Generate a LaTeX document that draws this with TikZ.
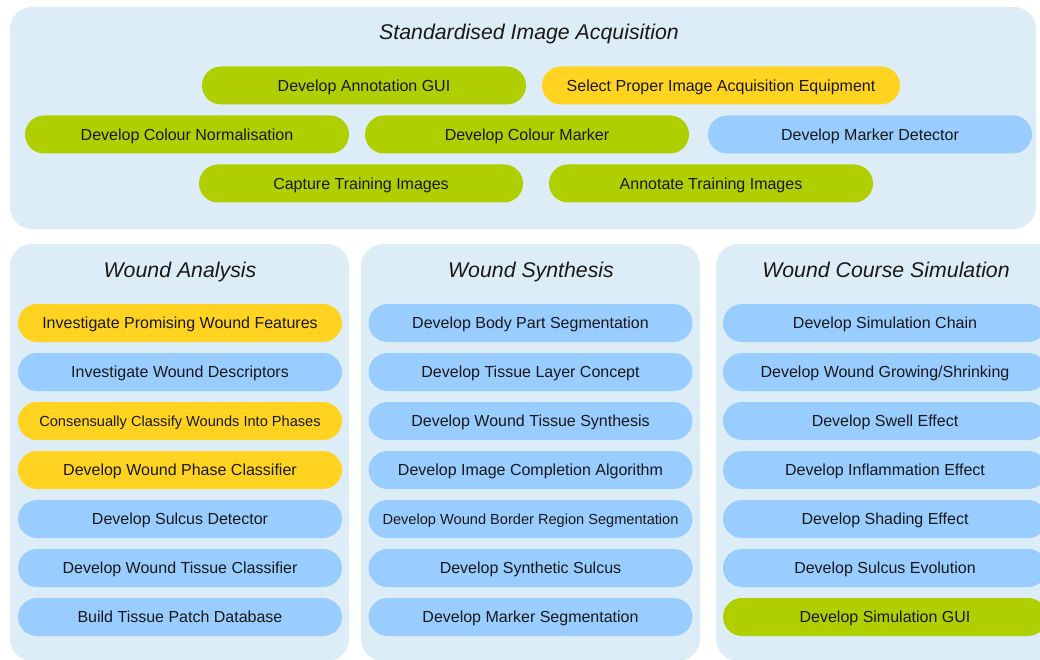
\documentclass[tikz,border=0pt]{standalone}
\usepackage{fontspec}
\setmainfont{Liberation Sans}
\definecolor{panelbg}{HTML}{DDEDF8}
\definecolor{pgreen}{HTML}{AFCF00}
\definecolor{pyellow}{HTML}{FFD320}
\definecolor{pblue}{HTML}{99CCFF}
\usetikzlibrary{shapes.misc}
\tikzset{
  panel/.style={fill=panelbg, draw=none, rounded corners=22pt},
  pill/.style={rounded rectangle, minimum height=38pt, minimum width=324pt, inner sep=0pt, font=\fontsize{16}{19}\selectfont, text=black!90, text height=11.5pt, text depth=0pt},
  gpill/.style={pill, fill=pgreen},
  ypill/.style={pill, fill=pyellow},
  bpill/.style={pill, fill=pblue},
  small/.style={font=\fontsize{14.6}{17}\selectfont, text height=10.5pt},
  ptitle/.style={font=\fontsize{21.3}{25}\selectfont\itshape, text=black!90, text height=15.3pt, text depth=0pt, inner sep=0pt}
}
\begin{document}
\begin{tikzpicture}[x=1pt,y=-1pt]
\useasboundingbox (0,0) rectangle (1040,660);
\clip (0,0) rectangle (1040,660);
% panels
\fill[panel] (10,7) rectangle (1036,229);
\fill[panel] (10,244) rectangle (349,661);
\fill[panel] (361,244) rectangle (700,661);
\fill[panel] (716,244) rectangle (1070,661);
% top
\node[ptitle] (t0) at (529,32) {Standardised Image Acquisition};
\node[gpill] (a1) at (364,85.5) {Develop Annotation GUI};
\node[ypill, minimum width=358pt] (a2) at (721,85.5) {Select Proper Image Acquisition Equipment};
\node[gpill] (a3) at (187,134.5) {Develop Colour Normalisation};
\node[gpill] (a4) at (527,134.5) {Develop Colour Marker};
\node[bpill] (a5) at (870,134.5) {Develop Marker Detector};
\node[gpill] (a6) at (361,183.5) {Capture Training Images};
\node[gpill] (a7) at (711,183.5) {Annotate Training Images};
% wound analysis
\node[ptitle] (t1) at (180,269.7) {Wound Analysis};
\node[ypill] (b1) at (180,323) {Investigate Promising Wound Features};
\node[bpill] (b2) at (180,372) {Investigate Wound Descriptors};
\node[ypill, small] (b3) at (180,421) {Consensually Classify Wounds Into Phases};
\node[ypill] (b4) at (180,470) {Develop Wound Phase Classifier};
\node[bpill] (b5) at (180,519) {Develop Sulcus Detector};
\node[bpill] (b6) at (180,568) {Develop Wound Tissue Classifier};
\node[bpill] (b7) at (180,617) {Build Tissue Patch Database};
% wound synthesis
\node[ptitle] (t2) at (531,269.7) {Wound Synthesis};
\node[bpill] (c1) at (530.5,323) {Develop Body Part Segmentation};
\node[bpill] (c2) at (530.5,372) {Develop Tissue Layer Concept};
\node[bpill] (c3) at (530.5,421) {Develop Wound Tissue Synthesis};
\node[bpill] (c4) at (530.5,470) {Develop Image Completion Algorithm};
\node[bpill, small] (c5) at (530.5,519) {Develop Wound Border Region Segmentation};
\node[bpill] (c6) at (530.5,568) {Develop Synthetic Sulcus};
\node[bpill] (c7) at (530.5,617) {Develop Marker Segmentation};
% wound course simulation
\node[ptitle] (t3) at (886,269.7) {Wound Course Simulation};
\node[bpill] (d1) at (885,323) {Develop Simulation Chain};
\node[bpill] (d2) at (885,372) {Develop Wound Growing/Shrinking};
\node[bpill] (d3) at (885,421) {Develop Swell Effect};
\node[bpill] (d4) at (885,470) {Develop Inflammation Effect};
\node[bpill] (d5) at (885,519) {Develop Shading Effect};
\node[bpill] (d6) at (885,568) {Develop Sulcus Evolution};
\node[gpill] (d7) at (885,617) {Develop Simulation GUI};
\end{tikzpicture}
\end{document}
